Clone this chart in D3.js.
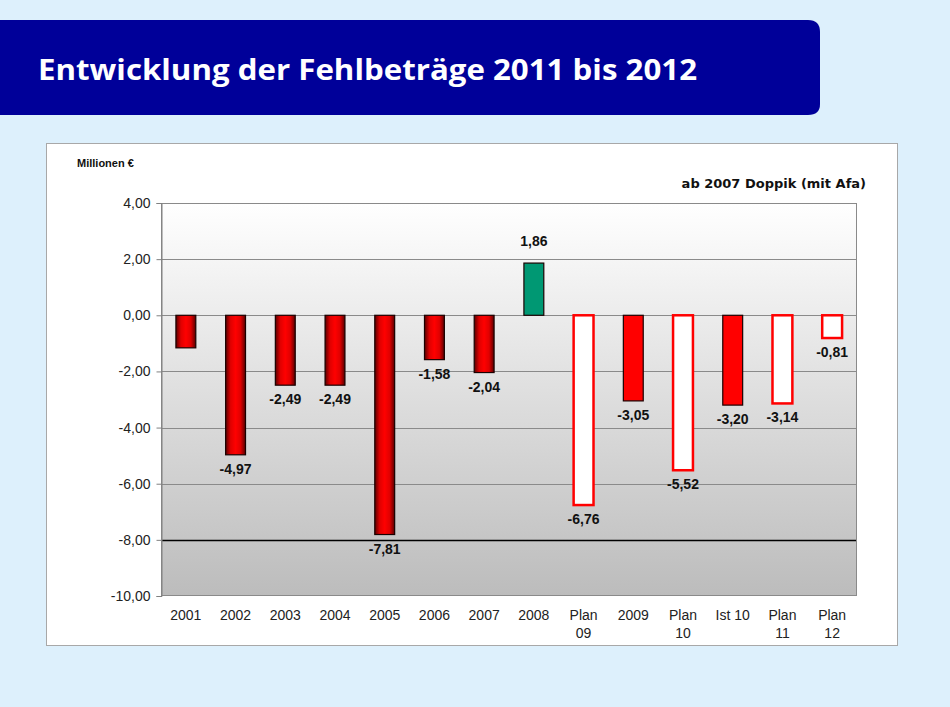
<!DOCTYPE html>
<html><head><meta charset="utf-8">
<script src="https://cdn.jsdelivr.net/npm/d3@7"></script>
<style>body{margin:0;background:#ddf0fc;}svg{display:block;}</style>
</head><body>
<svg id="c" width="950" height="707"></svg>
<script>
const categories = ["2001","2002","2003","2004","2005","2006","2007","2008","Plan\n09","2009","Plan\n10","Ist 10","Plan\n11","Plan\n12"];
const values = [-1.16,-4.97,-2.49,-2.49,-7.81,-1.58,-2.04,1.86,-6.76,-3.05,-5.52,-3.20,-3.14,-0.81];
const labels = ["","-4,97","-2,49","-2,49","-7,81","-1,58","-2,04","1,86","-6,76","-3,05","-5,52","-3,20","-3,14","-0,81"];
const styles = ["grad","grad","grad","grad","grad","grad","grad","green","plan","flat","plan","flat","plan","plan"];
const yTicks = [4,2,0,-2,-4,-6,-8,-10];

const svg = d3.select("#c");
svg.append("rect").attr("width",950).attr("height",707).attr("fill","#ddf0fc");
// title banner
svg.append("path").attr("d","M0,20 H808 Q820,20 820,32 V104 Q820,115 808,115 H0 Z").attr("fill","#000099");
svg.append("text").attr("x",38).attr("y",80).attr("fill","#fff")
  .attr("font-family","'Open Sans',sans-serif").attr("font-weight","bold").attr("font-size",29)
  .attr("textLength",659).attr("lengthAdjust","spacingAndGlyphs")
  .text("Entwicklung der Fehlbeträge 2011 bis 2012");
// panel
svg.append("rect").attr("x",46.5).attr("y",143.5).attr("width",851).attr("height",502).attr("fill","#fff").attr("stroke","#a8a8a8");

const defs = svg.append("defs");
const bg = defs.append("linearGradient").attr("id","bg").attr("x1",0).attr("y1",0).attr("x2",0).attr("y2",1);
bg.append("stop").attr("offset","0%").attr("stop-color","#ffffff");
bg.append("stop").attr("offset","100%").attr("stop-color","#bcbcbc");
const rg = defs.append("linearGradient").attr("id","rg").attr("x1",0).attr("y1",0).attr("x2",1).attr("y2",0);
rg.append("stop").attr("offset","0%").attr("stop-color","#5a0000");
rg.append("stop").attr("offset","25%").attr("stop-color","#e00000");
rg.append("stop").attr("offset","50%").attr("stop-color","#ff0000");
rg.append("stop").attr("offset","75%").attr("stop-color","#e00000");
rg.append("stop").attr("offset","100%").attr("stop-color","#5a0000");

const L=161,R=857,T=203,B=596;
const x = d3.scaleBand().domain(categories).range([L,R]).paddingInner(0.6).paddingOuter(0.3);
const y = d3.scaleLinear().domain([-10,4]).range([B,T]);

svg.append("rect").attr("x",L).attr("y",T).attr("width",R-L).attr("height",B-T).attr("fill","url(#bg)");
// grid
svg.append("g").selectAll("line").data(yTicks.filter(d=>d>-10&&d<4)).join("line")
  .attr("x1",L).attr("x2",R).attr("y1",d=>Math.round(y(d))+0.5).attr("y2",d=>Math.round(y(d))+0.5)
  .attr("stroke",d=>d===-8?"#000":"#8a8a8a").attr("stroke-width",d=>d===-8?1.3:1);
svg.append("rect").attr("x",L+0.5).attr("y",T+0.5).attr("width",R-L-1).attr("height",B-T-1).attr("fill","none").attr("stroke","#8a8a8a");

// y axis
const ya = svg.append("g").attr("transform",`translate(${L+0.5},0)`)
  .call(d3.axisLeft(y).tickValues(yTicks).tickSize(5).tickPadding(6)
    .tickFormat(d=>(d<0?"-":"")+Math.abs(d).toFixed(2).replace(".",",")));
ya.select(".domain").attr("stroke","#808080");
ya.selectAll(".tick line").attr("stroke","#808080");
ya.selectAll("text").attr("font-family","Arial,'Liberation Sans',sans-serif").attr("font-size",14).attr("fill","#222");

// x labels
const xl = svg.append("g").selectAll("text").data(categories).join("text")
  .attr("x",d=>x(d)+x.bandwidth()/2).attr("y",620).attr("text-anchor","middle")
  .attr("font-family","Arial,'Liberation Sans',sans-serif").attr("font-size",14).attr("fill","#222");
xl.each(function(d){
  const parts=d.split("\n");
  parts.forEach((p,i)=>d3.select(this).append("tspan").attr("x",x(d)+x.bandwidth()/2).attr("dy",i?18:0).text(p));
});

// bars
const fill = s=> s==="grad"?"url(#rg)": s==="green"?"#009873": s==="plan"?"#ffffff":"#ff0000";
const stroke = s=> s==="plan"?"#ff0000":"#1a0000";
svg.append("g").selectAll("rect").data(values).join("rect")
  .attr("x",(d,i)=>x(categories[i])).attr("width",x.bandwidth())
  .attr("y",d=>y(Math.max(0,d))).attr("height",d=>Math.abs(y(d)-y(0)))
  .attr("fill",(d,i)=>fill(styles[i])).attr("stroke",(d,i)=>stroke(styles[i]))
  .attr("stroke-width",(d,i)=>styles[i]==="plan"?2.5:1.2);

// value labels
svg.append("g").selectAll("text").data(values).join("text")
  .attr("x",(d,i)=>x(categories[i])+x.bandwidth()/2)
  .attr("y",d=> d<0 ? y(d)+19 : y(d)-17)
  .attr("text-anchor","middle").attr("font-family","Arial,'Liberation Sans',sans-serif")
  .attr("font-weight","bold").attr("font-size",14).attr("fill","#111")
  .text((d,i)=>labels[i]);

svg.append("text").attr("x",77).attr("y",167).attr("font-family","Arial,'Liberation Sans',sans-serif")
  .attr("font-weight","bold").attr("font-size",11).attr("fill","#111").text("Millionen €");
svg.append("text").attr("x",866).attr("y",188).attr("text-anchor","end").attr("font-family","'DejaVu Sans',sans-serif")
  .attr("font-weight","bold").attr("font-size",13).attr("fill","#111").text("ab 2007 Doppik (mit Afa)");
</script>
</body></html>
